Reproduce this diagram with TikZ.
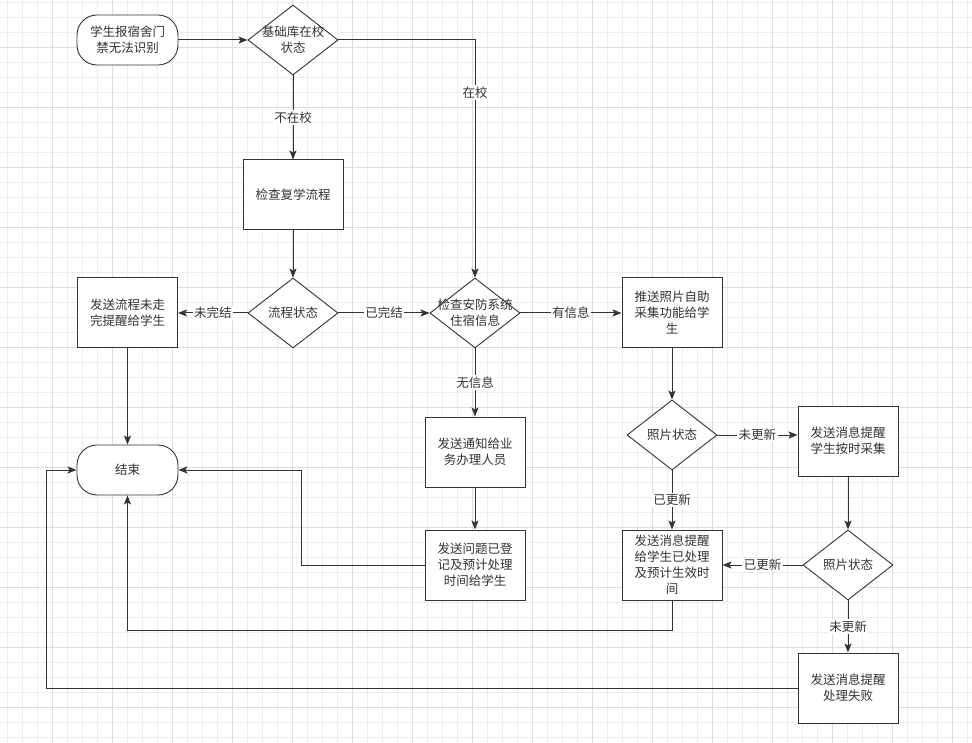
\documentclass[tikz,border=0pt]{standalone}
\usepackage{fontspec}
\setmainfont{Noto Sans CJK SC}
\usetikzlibrary{positioning,arrows.meta,shapes.geometric,calc}
\definecolor{linegray}{HTML}{333333}
\definecolor{gridminor}{HTML}{EDEDED}
\definecolor{gridmajor}{HTML}{DDDDDD}
\tikzset{
  flowline/.style={draw=linegray, line width=1pt, -{Stealth[length=9pt,width=7pt,inset=2pt]}},
  txt/.style={align=center, text=linegray, font=\fontsize{12.5}{16}\selectfont},
  terminal/.style={txt, draw=linegray, line width=0.9pt, fill=white, rounded corners=20pt,
    minimum width=101pt, minimum height=50pt, inner sep=0pt},
  process/.style={txt, draw=linegray, line width=1pt, fill=white,
    minimum width=100pt, minimum height=70pt, inner sep=0pt},
  decision/.style={diamond, draw=linegray, line width=0.9pt, fill=white,
    minimum width=90pt, minimum height=70pt, inner sep=0pt},
  branch/.style={txt, fill=white, inner sep=1.5pt}
}

\begin{document}
\begin{tikzpicture}[x=1pt,y=-1pt]
      \useasboundingbox (0,0) rectangle (972,743);
      \fill[white] (0,0) rectangle (972,743);
      \foreach \gx in {7,22,...,967} \draw[gridminor, line width=0.8pt] (\gx,0) -- (\gx,743);
      \foreach \gy in {2,17,...,737} \draw[gridminor, line width=0.8pt] (0,\gy) -- (972,\gy);
      \foreach \gx in {52,112,...,952} \draw[gridmajor, line width=0.8pt] (\gx,0) -- (\gx,743);
      \foreach \gy in {47,107,...,707} \draw[gridmajor, line width=0.8pt] (0,\gy) -- (972,\gy);

      \node[terminal] (start)  at (127.5,40) {学生报宿舍门\\禁无法识别};
      \node[decision, label={[txt]center:{基础库在校\\状态}}] (campus) at (293,40) {};
      \node[process]  (resume) at (293,195) {检查复学流程};
      \node[decision, label={[txt]center:{流程状态}}] (flow) at (293,313) {};
      \node[process]  (unfinished) at (127.5,313) {发送流程未走\\完提醒给学生};
      \node[decision, label={[txt]center:{检查安防系统\\住宿信息}}] (dorm) at (475,313) {};
      \node[process]  (push)   at (672,313) {推送照片自助\\采集功能给学\\生};
      \node[process]  (notify) at (475,452) {发送通知给业\\务办理人员};
      \node[process]  (logged) at (475,565) {发送问题已登\\记及预计处理\\时间给学生};
      \node[decision, label={[txt]center:{照片状态}}] (photoa) at (672,435) {};
      \node[process]  (remind) at (848,441) {发送消息提醒\\学生按时采集};
      \node[process]  (applied) at (672,565) {发送消息提醒\\给学生已处理\\及预计生效时\\间};
      \node[decision, label={[txt]center:{照片状态}}] (photob) at (848,565) {};
      \node[process]  (failed) at (848,688) {发送消息提醒\\处理失败};
      \node[terminal] (finish) at (127.5,470) {结束};

      \draw[flowline] (start) -- (campus);
      \draw[flowline] (campus) -- node[branch] {不在校} (resume);
      \draw[flowline] (campus.east) -| node[branch, pos=0.61] {在校} (dorm.north);
      \draw[flowline] (resume) -- (flow);
      \draw[flowline] (flow) -- node[branch] {未完结} (unfinished);
      \draw[flowline] (flow) -- node[branch] {已完结} (dorm);
      \draw[flowline] (dorm) -- node[branch] {有信息} (push);
      \draw[flowline] (dorm) -- node[branch] {无信息} (notify);
      \draw[flowline] (notify) -- (logged);
      \draw[flowline] (push) -- (photoa);
      \draw[flowline] (photoa.east) -- node[branch] {未更新} (photoa.east -| remind.west);
      \draw[flowline] (photoa) -- node[branch] {已更新} (applied);
      \draw[flowline] (remind) -- (photob);
      \draw[flowline] (photob) -- node[branch] {已更新} (applied);
      \draw[flowline] (photob) -- node[branch] {未更新} (failed);
      \draw[flowline] (unfinished) -- (finish);
      \draw[flowline] (logged.west) -- ++(-123,0) |- (finish.east);
      \draw[flowline] (applied.south) -- ++(0,30) -| (finish.south);
      \draw[flowline] (failed.west) -| ([xshift=-30pt]finish.west) -- (finish.west);
\end{tikzpicture}
\end{document}
